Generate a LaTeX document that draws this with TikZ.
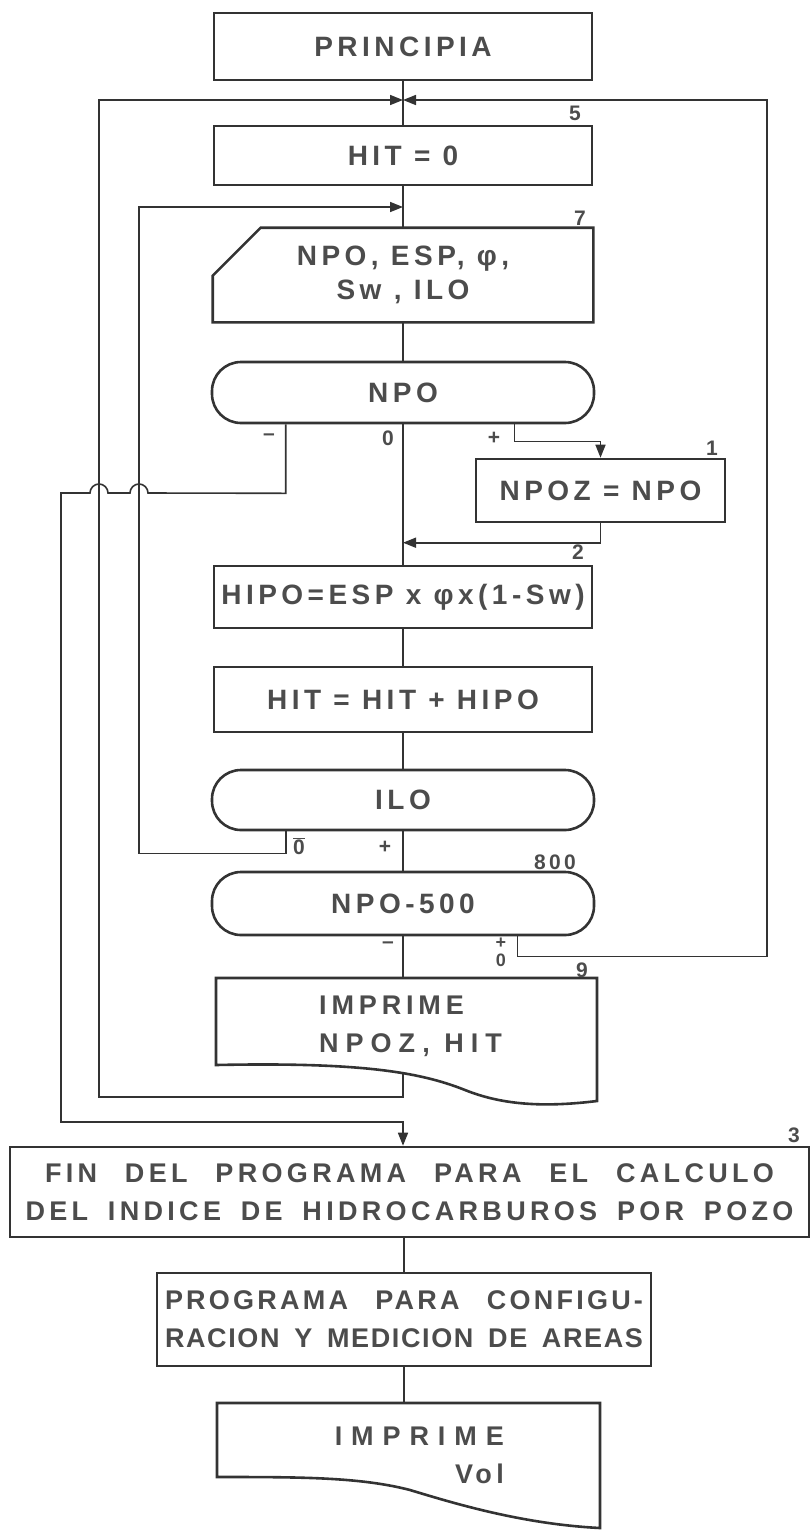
\documentclass[tikz,border=0pt]{standalone}
\usepackage{fontspec}
\setmainfont{Liberation Sans}
\newfontfamily\letra{Liberation Sans}[LetterSpace=16]
\usetikzlibrary{arrows.meta}

\begin{document}
\begin{tikzpicture}[x=1pt, y=1pt,
    borde/.style={draw=black!80, line width=2.6pt},
    caja/.style={borde, minimum width=378pt, align=center, text=black!70,
        font=\letra\bfseries\fontsize{28}{34}\selectfont},
    decision/.style={caja, minimum width=382pt, rounded corners=29pt},
    abajo/.style={caja, font=\letra\bfseries\fontsize{27}{38}\selectfont},
    texto/.style={text=black!70, inner sep=0pt, font=\letra\bfseries\fontsize{27}{38}\selectfont},
    linea/.style={draw=black!80, line width=1.6pt},
    flecha/.style={linea, -{Triangle[length=13pt, width=10pt]}},
    etq/.style={text=black!70, inner sep=1pt, font=\letra\bfseries\fontsize{21}{15}\selectfont}
]
    \useasboundingbox (0,0) rectangle (811,-1532);

    % Boxes
    \node[caja, minimum height=67pt] (inicio) at (403,-46.5) {PRINCIPIA};
    \node[caja, minimum height=59pt] (hit0) at (403,-155.5) {HIT = 0};
    \node[caja, draw=none, minimum height=92pt] (lee) at (403,-275) {NPO, ESP, φ,\\Sw , ILO};
    \draw[borde] ([xshift=48pt]lee.north west) -- (lee.north east) -- (lee.south east)
        -- (lee.south west) -- ([yshift=-48pt]lee.north west) -- cycle;
    \node[decision, minimum height=61pt] (npo) at (403,-392.5) {NPO};
    \node[caja, minimum width=249pt, minimum height=63pt] (npoz) at (600.5,-490.5) {NPOZ = NPO};
    \node[caja, minimum height=62pt] (hipo) at (403,-597) {HIPO=ESP x φx(1-Sw)};
    \node[caja, minimum height=65pt] (hitsum) at (403,-699.5) {HIT = HIT + HIPO};
    \node[decision, minimum height=60pt] (ilo) at (403,-800) {ILO};
    \node[decision, minimum height=63pt] (npoq) at (403,-903.5) {NPO-500};

    % Printouts
    \draw[borde] (216,-978) -- (597,-978) -- (597,-1101)
        .. controls (540,-1108) and (500,-1104) .. (465,-1090)
        .. controls (420,-1072) and (360,-1062) .. (216,-1065) -- cycle;
    \node[texto, align=left, anchor=west] (imp1) at (319,-1026)
        {{\addfontfeature{LetterSpace=18}IMPRIME}\\{\addfontfeature{LetterSpace=26}NPOZ, HIT}};
    \coordinate (imp1in) at (403,-978);
    \coordinate (imp1out) at (403,-1073);

    \node[abajo, minimum width=799pt, minimum height=90pt] (fin) at (409.5,-1192)
        {\makebox[729pt][s]{FIN DEL PROGRAMA PARA EL CALCULO}\\
         \makebox[768pt][s]{DEL INDICE DE HIDROCARBUROS POR POZO}};
    \node[abajo, minimum width=494pt, minimum height=93pt] (prog) at (404,-1319.5)
        {\makebox[478pt][s]{\addfontfeature{LetterSpace=12}PROGRAMA PARA CONFIGU-}\\
         \makebox[478pt][s]{\addfontfeature{LetterSpace=6}RACION Y MEDICION DE AREAS}};

    \draw[borde] (217,-1403) -- (600,-1403) -- (600,-1528)
        .. controls (520,-1524) and (450,-1502) .. (410,-1490)
        .. controls (360,-1477) and (300,-1477) .. (217,-1477) -- cycle;
    \node[texto, align=right, anchor=east] (imp2) at (504,-1455)
        {{\addfontfeature{LetterSpace=33}IMPRIME}\\Vol};
    \coordinate (imp2in) at (404,-1403);

    % Junctions
    \coordinate (j1) at (403,-100);
    \coordinate (j2) at (403,-207);
    \coordinate (npoMenos) at ([xshift=75pt]npo.south west);
    \coordinate (npoMas) at ([xshift=-81pt]npo.south east);
    \coordinate (iloCero) at ([xshift=75pt]ilo.south west);
    \coordinate (npoqMas) at ([xshift=-78pt]npoq.south east);

    % Main flow
    \draw[linea] (inicio) -- (hit0);
    \draw[linea] (hit0) -- (lee);
    \draw[linea] (lee) -- (npo);
    \draw[linea] (npo) -- (hipo);
    \draw[linea] (hipo) -- (hitsum);
    \draw[linea] (hitsum) -- (ilo);
    \draw[linea] (ilo) -- (npoq);
    \draw[linea] (npoq) -- (imp1in);
    \draw[linea] (fin.south -| prog) -- (prog);
    \draw[linea] (prog) -- (imp2in);

    % Branches
    \draw[flecha] (npoMas) -- ++(0,-17) -| (npoz.north);
    \draw[flecha] (npoz.south) |- ([yshift=22pt]hipo.north);
    \draw[flecha] (npoMenos) -- ++(0,-69) -- (148,-493)
        arc[start angle=0, end angle=180, radius=9] -- (108,-493)
        arc[start angle=0, end angle=180, radius=9] -- (61,-493)
        |- (403,-1122) -- (fin.north -| imp1in);
    \draw[flecha] (iloCero) -- ++(0,-22) -| (139,-207) -- (j2);
    \draw[flecha] (npoqMas) -- ++(0,-20) -| (767,-100) -- (j1);
    \draw[flecha] (imp1out) -- (403,-1097) -| (99,-100) -- (j1);

    % Labels
    \node[etq] (n5) at (575,-113) {5};
    \node[etq] (n7) at (580,-218) {7};
    \node[etq] (n1) at (712,-448) {1};
    \node[etq] (n2) at (578,-552) {2};
    \node[etq] (n800) at (555,-862) {800};
    \node[etq] (n9) at (582,-970) {9};
    \node[etq] (n3) at (794,-1135) {3};
    \node[etq] (npoM) at (269,-437) {–};
    \node[etq] (npoC) at (388,-438) {0};
    \node[etq] (npoP) at (494,-438) {+};
    \node[etq] (iloC) at (299,-846) {$\overline{\mbox{0}}$};
    \node[etq] (iloP) at (385,-847) {+};
    \node[etq] (npoqM) at (388,-945) {–};
    \node[etq, font=\letra\bfseries\fontsize{18}{15}\selectfont] (npoqP) at (501,-943) {+};
    \node[etq, font=\letra\bfseries\fontsize{18}{15}\selectfont] (npoqC) at (501,-960) {0};
\end{tikzpicture}
\end{document}
